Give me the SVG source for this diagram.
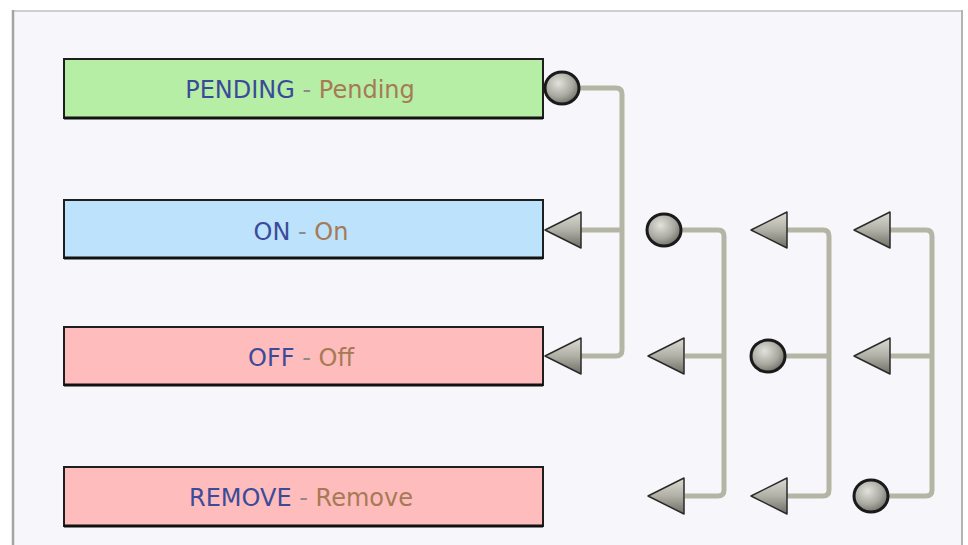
<svg xmlns="http://www.w3.org/2000/svg" width="968" height="545" viewBox="0 0 968 545">
<defs>
<style>
.box{stroke:#1e1e1e;stroke-width:2}
.lbl{font-family:"DejaVu Sans",Verdana,sans-serif;font-size:24px}
.k{fill:#3b4b99}
.d{fill:#8f8a86}
.v{fill:#a57a55}
.wire{fill:none;stroke:#b5b5a6;stroke-width:5;stroke-linejoin:round}
.sh{stroke:#111;stroke-width:3}
</style>
<linearGradient id="tg" x1="0" y1="0" x2="0" y2="1">
<stop offset="0" stop-color="#dcdcd4"/>
<stop offset="0.5" stop-color="#b0b0a6"/>
<stop offset="1" stop-color="#6e6e66"/>
</linearGradient>
<radialGradient id="cg" cx="0.4" cy="0.35" r="0.7">
<stop offset="0" stop-color="#e2e2dc"/>
<stop offset="0.6" stop-color="#a8a8a0"/>
<stop offset="1" stop-color="#6a6a64"/>
</radialGradient>
<symbol id="arr" overflow="visible">
<path d="M0 0 L36 -18 L36 18 Z" fill="url(#tg)" stroke="#2a2a2a" stroke-width="1.5" stroke-linejoin="round"/>
</symbol>
<symbol id="dot" overflow="visible">
<ellipse cx="0" cy="0" rx="17" ry="16" fill="url(#cg)" stroke="#1a1a1a" stroke-width="3"/>
</symbol>
</defs>
<rect x="0" y="0" width="968" height="545" fill="#ffffff"/>
<rect x="13" y="11" width="949" height="534" fill="#f7f7fb"/>
<line x1="13" y1="11" x2="962" y2="11" stroke="#cfcfcf" stroke-width="2"/>
<line x1="13" y1="10" x2="13" y2="545" stroke="#a4a4a4" stroke-width="2.5"/>
<line x1="962" y1="10" x2="962" y2="545" stroke="#b4b4b4" stroke-width="2"/>

<g id="connectors">
<path class="wire" d="M578 88 H616 Q622 88 622 94 V350 Q622 356 616 356 H581"/>
<path class="wire" d="M581 230 H622"/>
<path class="wire" d="M680 230 H718 Q724 230 724 236 V490 Q724 496 718 496 H685"/>
<path class="wire" d="M685 356 H724"/>
<path class="wire" d="M787 230 H823 Q829 230 829 236 V490 Q829 496 823 496 H787"/>
<path class="wire" d="M784 356 H829"/>
<path class="wire" d="M890 230 H926 Q932 230 932 236 V490 Q932 496 926 496 H887"/>
<path class="wire" d="M890 356 H932"/>
<use href="#dot" x="562" y="88"/>
<use href="#arr" x="545" y="230"/>
<use href="#arr" x="545" y="356"/>
<use href="#dot" x="664" y="230"/>
<use href="#arr" x="648" y="356"/>
<use href="#arr" x="648" y="496"/>
<use href="#arr" x="751" y="230"/>
<use href="#dot" x="768" y="356"/>
<use href="#arr" x="751" y="496"/>
<use href="#arr" x="854" y="230"/>
<use href="#arr" x="854" y="356"/>
<use href="#dot" x="871" y="496"/>
</g>

<g id="node-pending">
<rect class="box" x="64" y="59" width="479" height="59" fill="#b6eea6"/>
<line class="sh" x1="64" y1="118" x2="543" y2="118"/>
<text class="lbl" x="300" y="98" text-anchor="middle"><tspan class="k">PENDING</tspan><tspan class="d"> - </tspan><tspan class="v">Pending</tspan></text>
</g>
<g id="node-on">
<rect class="box" x="64" y="200" width="479" height="58" fill="#bde2fb"/>
<line class="sh" x1="64" y1="258" x2="543" y2="258"/>
<text class="lbl" x="301" y="240" text-anchor="middle"><tspan class="k">ON</tspan><tspan class="d"> - </tspan><tspan class="v">On</tspan></text>
</g>
<g id="node-off">
<rect class="box" x="64" y="327" width="479" height="58" fill="#ffbcbc"/>
<line class="sh" x1="64" y1="385" x2="543" y2="385"/>
<text class="lbl" x="301" y="366" text-anchor="middle"><tspan class="k">OFF</tspan><tspan class="d"> - </tspan><tspan class="v">Off</tspan></text>
</g>
<g id="node-remove">
<rect class="box" x="64" y="467" width="479" height="59" fill="#ffbcbc"/>
<line class="sh" x1="64" y1="526" x2="543" y2="526"/>
<text class="lbl" x="301" y="506" text-anchor="middle"><tspan class="k">REMOVE</tspan><tspan class="d"> - </tspan><tspan class="v">Remove</tspan></text>
</g>
</svg>
